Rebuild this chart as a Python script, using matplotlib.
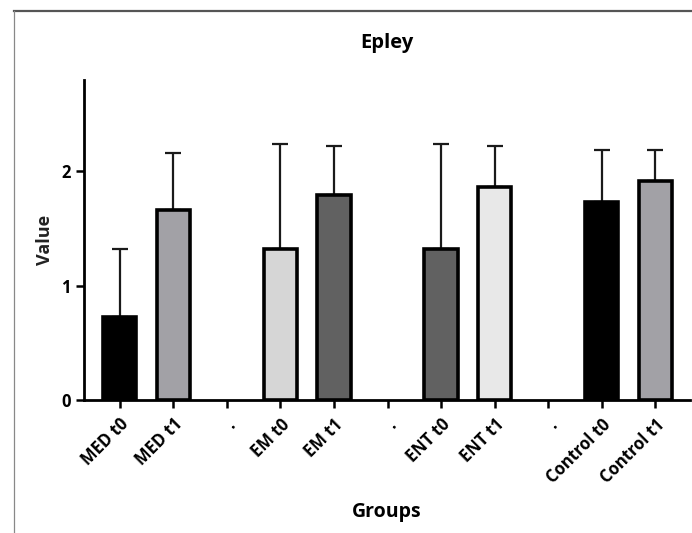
import numpy as np
import matplotlib.pyplot as plt
from matplotlib.lines import Line2D

plt.rcParams['font.family'] = ['Open Sans', 'DejaVu Sans']

# group means and upper SD (blank slots separate the groups)
labels = ['MED t0', 'MED t1', '.', 'EM t0', 'EM t1', '.',
          'ENT t0', 'ENT t1', '.', 'Control t0', 'Control t1']
means = [0.73, 1.66, np.nan, 1.32, 1.79, np.nan, 1.32, 1.86, np.nan, 1.73, 1.92]
sds = [0.59, 0.50, np.nan, 0.92, 0.43, np.nan, 0.92, 0.36, np.nan, 0.46, 0.27]
colors = ['#000000', '#a2a1a6', 'none', '#d6d6d6', '#616161', 'none',
          '#616161', '#e8e8e8', 'none', '#000000', '#a2a1a6']

x = np.arange(len(labels))
fig = plt.figure(figsize=(6.92, 5.33), dpi=100)
ax = fig.add_axes([0.1214, 0.2495, 0.8756, 0.6004])

for xi, m, s, c in zip(x, means, sds, colors):
    if np.isnan(m):
        continue
    ax.errorbar(xi, m, yerr=[[0], [s]], fmt='none', ecolor='#1a1a1a',
                elinewidth=1.6, capsize=6, capthick=1.6, zorder=1)
    ax.bar(xi, m, width=0.62, color=c, edgecolor='black', linewidth=2.6, zorder=2)

ax.set_xlim(-0.67, 10.65)
ax.set_ylim(0, 2.8)
ax.set_yticks([0, 1, 2])
ax.set_xticks(x)
ax.set_xticklabels(labels, rotation=45, ha='right', rotation_mode='anchor',
                   fontsize=12, fontweight='bold')
for t in ax.get_yticklabels():
    t.set_fontweight('bold')
    t.set_fontsize(12)

ax.spines['top'].set_visible(False)
ax.spines['right'].set_visible(False)
ax.spines['left'].set_linewidth(2)
ax.spines['bottom'].set_linewidth(2)
ax.tick_params(axis='both', width=1.8, length=6, color='black')
ax.tick_params(axis='x', pad=5)

ax.set_title('Epley', fontsize=14.5, fontweight='bold', pad=23)
ax.set_xlabel('Groups', fontsize=14, fontweight='bold', labelpad=11)
ax.set_ylabel('Value', fontsize=13, fontweight='bold', color='#222222', labelpad=5)

# thin frame around the image
fig.add_artist(Line2D([14 / 692, 1], [1 - 11 / 533] * 2, color='#555555', lw=1.6,
                      transform=fig.transFigure))
fig.add_artist(Line2D([14 / 692] * 2, [0, 1 - 11 / 533], color='#888888', lw=0.9,
                      transform=fig.transFigure))

fig.savefig('out.png', dpi=100)
